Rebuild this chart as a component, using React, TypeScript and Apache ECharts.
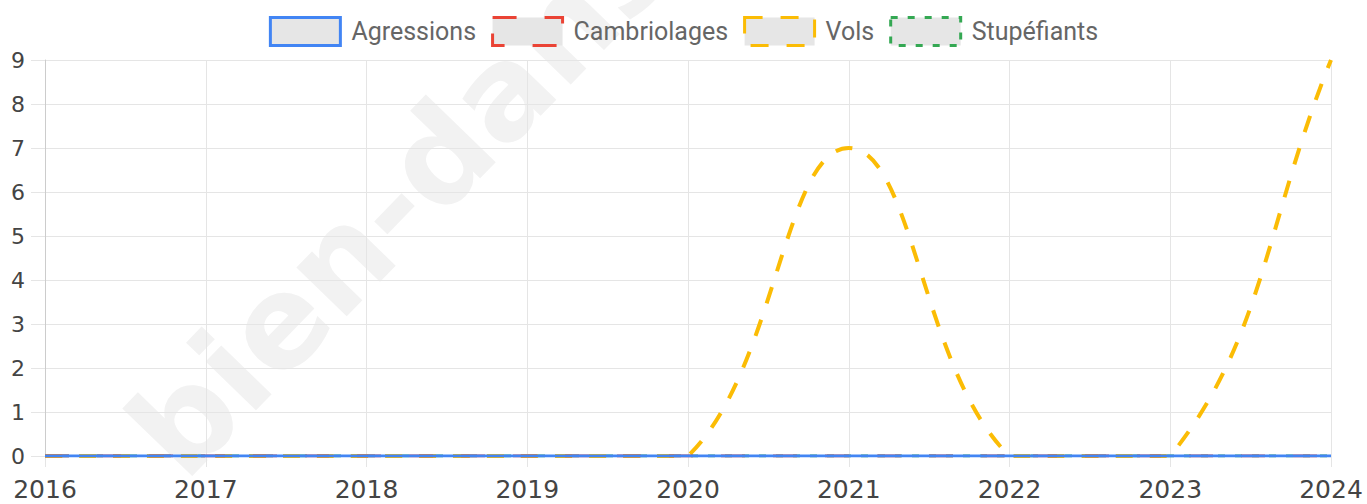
import React, { useEffect, useRef } from "react";
import * as echarts from "echarts";

const years = ["2016", "2017", "2018", "2019", "2020", "2021", "2022", "2023", "2024"];
const agressions = [0, 0, 0, 0, 0, 0, 0, 0, 0];
const cambriolages = [0, 0, 0, 0, 0, 0, 0, 0, 0];
const vols = [0, 0, 0, 0, 0, 7, 0, 0, 9];
const stupefiants = [0, 0, 0, 0, 0, 0, 0, 0, 0];
const seriesNames = ["Agressions", "Cambriolages", "Vols", "Stupéfiants"];
const colors = ["#4285F4", "#EA4335", "#FBBC05", "#34A853"];
const yMax = 9;
const watermark = "bien-dans-ma-ville.fr";

const legendDash: any[] = ["solid", [24, 28], [18, 18], [7, 10]];

// Chart.js-like spline (tension 0.4) with control points capped to the plot area
function splinePath(pts: number[][], area: { x: number; y: number; width: number; height: number }, tension: number) {
  const n = pts.length;
  const cap = (x: number, y: number) => [
    Math.min(Math.max(x, area.x), area.x + area.width),
    Math.min(Math.max(y, area.y), area.y + area.height),
  ];
  const cps = pts.map((p, i) => {
    const prev = pts[Math.max(0, i - 1)];
    const next = pts[Math.min(n - 1, i + 1)];
    const d01 = Math.hypot(p[0] - prev[0], p[1] - prev[1]);
    const d12 = Math.hypot(next[0] - p[0], next[1] - p[1]);
    let s01 = d01 / (d01 + d12);
    let s12 = d12 / (d01 + d12);
    if (!isFinite(s01)) s01 = 0;
    if (!isFinite(s12)) s12 = 0;
    const fa = tension * s01;
    const fb = tension * s12;
    return {
      prev: cap(p[0] - fa * (next[0] - prev[0]), p[1] - fa * (next[1] - prev[1])),
      next: cap(p[0] + fb * (next[0] - prev[0]), p[1] + fb * (next[1] - prev[1])),
    };
  });
  let d = `M${pts[0][0]},${pts[0][1]}`;
  for (let i = 1; i < n; i++) {
    d += ` C${cps[i - 1].next[0]},${cps[i - 1].next[1]} ${cps[i].prev[0]},${cps[i].prev[1]} ${pts[i][0]},${pts[i][1]}`;
  }
  return d;
}

export default function App() {
  const ref = useRef<HTMLDivElement>(null);
  useEffect(() => {
    if (!ref.current) return;
    const chart = echarts.init(ref.current, null, { renderer: "svg" });
    const tickFont = "DejaVu Sans";
    const grid = "#e5e5e5";
    const wmSize = 128;
    chart.setOption({
      animation: false,
      backgroundColor: "#ffffff",
      graphic: [
        {
          type: "group",
          x: 185,
          y: 484,
          rotation: (46 * Math.PI) / 180,
          z: -10,
          silent: true,
          children: [
            {
              type: "text",
              x: 0,
              y: wmSize * 0.15,
              z: -10,
              style: {
                text: watermark,
                fontSize: wmSize,
                fontWeight: "bold",
                fontFamily: "DejaVu Sans",
                fill: "#f2f2f2",
                verticalAlign: "bottom",
                align: "left",
              },
            },
          ],
        },
      ],
      legend: {
        top: 11,
        left: "center",
        itemWidth: 70,
        itemHeight: 28,
        itemGap: 15,
        selectedMode: false,
        textStyle: {
          fontFamily: "Roboto",
          fontSize: 25,
          color: "#666",
          padding: [0, 0, 0, 6],
        },
        data: seriesNames.map((n, i) => ({
          name: n,
          icon: "rect",
          itemStyle: {
            color: "#e6e6e6",
            borderColor: colors[i],
            borderWidth: 3,
            borderType: legendDash[i],
          },
        })),
      },
      grid: { left: 45, right: 36, top: 60, bottom: 48, containLabel: false },
      xAxis: {
        type: "category",
        data: years,
        boundaryGap: false,
        axisLine: { show: true, lineStyle: { color: "#ccc" } },
        axisTick: { show: true, length: 11, lineStyle: { color: grid } },
        axisLabel: { fontFamily: tickFont, fontSize: 25, color: "#444", margin: 21 },
        splitLine: { show: true, lineStyle: { color: grid } },
      },
      yAxis: {
        type: "value",
        min: 0,
        max: yMax,
        interval: 1,
        axisLine: { show: true, lineStyle: { color: "#ccc" } },
        axisTick: { show: true, length: 14, lineStyle: { color: grid } },
        axisLabel: { fontFamily: tickFont, fontSize: 22, color: "#444", margin: 20 },
        splitLine: { show: true, lineStyle: { color: grid } },
      },
      series: [
        {
          name: "Stupéfiants",
          type: "line",
          data: stupefiants,
          showSymbol: false,
          color: colors[3],
          lineStyle: { width: 3, type: [7, 10], color: colors[3] },
          z: 2,
        },
        {
          name: "Vols",
          type: "custom",
          coordinateSystem: "cartesian2d",
          data: vols.map((v, i) => [i, v]),
          encode: { x: 0, y: 1 },
          color: colors[2],
          z: 3,
          renderItem: (params: any, api: any) => {
            if (params.dataIndex !== 0) return null;
            const pts = vols.map((v, i) => api.coord([i, v]));
            const cs = params.coordSys;
            return {
              type: "path",
              shape: { pathData: splinePath(pts, cs, 0.4) },
              style: { fill: "none", stroke: colors[2], lineWidth: 4, lineDash: [17, 17] },
            };
          },
        },
        {
          name: "Cambriolages",
          type: "line",
          data: cambriolages,
          showSymbol: false,
          color: colors[1],
          lineStyle: { width: 3, type: [24, 28], color: colors[1] },
          z: 4,
        },
        {
          name: "Agressions",
          type: "line",
          data: agressions,
          showSymbol: false,
          color: colors[0],
          lineStyle: { width: 3, color: colors[0] },
          z: 5,
        },
      ],
    });
    return () => chart.dispose();
  }, []);
  return (
    <div
      ref={ref}
      style={{ position: "absolute", left: 0, top: 0, width: 1367, height: 504 }}
    />
  );
}
